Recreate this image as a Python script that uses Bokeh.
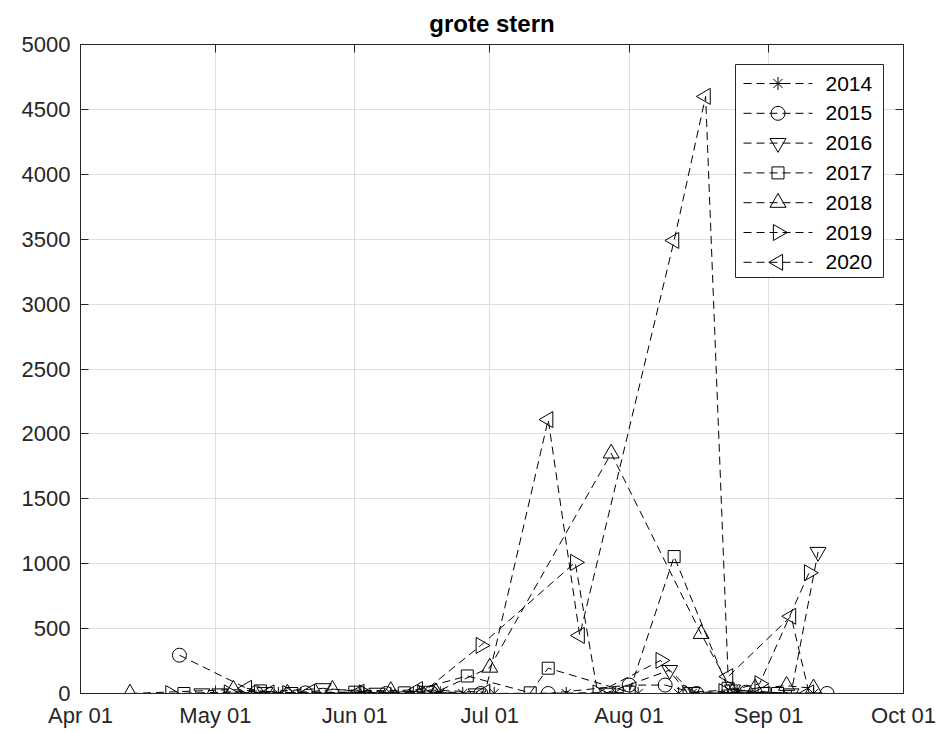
import math
import pandas as pd
from bokeh.plotting import figure
from bokeh.models import (FixedTicker, DatetimeTickFormatter, DatetimeAxis, LinearAxis,
                          Range1d, ColumnDataSource)
from bokeh.core.properties import value
from bokeh.embed import file_html
from bokeh.resources import INLINE

BASE_YEAR = 2000

# ---------------- data (month-day of each count, count) ----------------
dates_2014 = ["05-15", "05-20", "06-03", "06-09", "06-14", "06-20", "06-25", "07-02", "07-18",
              "07-29", "08-03", "08-12", "08-15", "08-25", "09-11"]
vals_2014 = [0, 0, 5, 0, 0, 5, 0, 0, 0, 5, 0, 0, 0, 10, 0]

dates_2015 = ["04-23", "05-10", "05-21", "06-08", "06-18", "06-29", "07-14", "08-01", "08-09",
              "08-16", "08-27", "09-14"]
vals_2015 = [295, 5, 5, 0, 5, 0, 0, 65, 65, 0, 10, 0]

dates_2016 = ["04-28", "05-02", "05-12", "05-25", "06-06", "06-17", "06-28", "07-27", "08-10",
              "08-15", "08-24", "09-06", "09-12"]
vals_2016 = [0, 0, 10, 40, 5, 20, 0, 5, 180, 10, 30, 0, 1090]

dates_2017 = ["04-24", "05-11", "05-18", "06-01", "06-12", "06-26", "07-10", "07-14", "08-01",
              "08-11", "08-23", "08-31", "09-03"]
vals_2017 = [0, 20, 0, 10, 5, 135, 5, 195, 10, 1055, 40, 0, 0]

dates_2018 = ["04-12", "05-05", "05-17", "05-27", "06-09", "06-19", "07-01", "07-28", "08-17",
              "08-24", "08-29", "09-05", "09-11"]
vals_2018 = [0, 30, 0, 30, 20, 10, 200, 1850, 460, 10, 40, 60, 40]

dates_2019 = ["04-21", "05-04", "05-17", "06-03", "06-16", "06-29", "07-20", "07-25", "08-08",
              "08-14", "08-22", "08-30", "09-10"]
vals_2019 = [0, 5, 0, 5, 5, 370, 1010, 5, 255, 5, 15, 75, 930]

dates_2020 = ["05-08", "05-13", "05-22", "06-02", "06-15", "06-30", "07-14", "07-21", "08-11",
              "08-18", "08-23", "09-06", "09-10"]
vals_2020 = [40, 5, 10, 10, 30, 10, 2110, 447, 3490, 4600, 130, 595, 5]

years = ["2014", "2015", "2016", "2017", "2018", "2019", "2020"]
x_tick_dates = ["04-01", "05-01", "06-01", "07-01", "08-01", "09-01", "10-01"]
y_ticks = [0, 500, 1000, 1500, 2000, 2500, 3000, 3500, 4000, 4500, 5000]
title_text = "grote stern"

series = {
    "2014": (dates_2014, vals_2014),
    "2015": (dates_2015, vals_2015),
    "2016": (dates_2016, vals_2016),
    "2017": (dates_2017, vals_2017),
    "2018": (dates_2018, vals_2018),
    "2019": (dates_2019, vals_2019),
    "2020": (dates_2020, vals_2020),
}

# marker style per year: (marker, angle, size)
styles = {
    "2014": ("asterisk", 0.0, 13),
    "2015": ("circle", 0.0, 14),
    "2016": ("inverted_triangle", 0.0, 16),
    "2017": ("square", 0.0, 12),
    "2018": ("triangle", 0.0, 16),
    "2019": ("triangle", -math.pi / 2, 16),
    "2020": ("triangle", math.pi / 2, 16),
}


def to_dt(md):
    return pd.to_datetime([f"{BASE_YEAR}-{d}" for d in md])


xt = to_dt(x_tick_dates)
tick_ms = [t.value / 1e6 for t in xt]

FONT = "Liberation Sans"
AX = "#262626"
W, H = 945, 733
BL, BR, BT, BB = 80, 42, 44, 40
FW, FH = W - BL - BR, H - BT - BB

p = figure(width=W, height=H, x_axis_type="datetime",
           x_range=Range1d(xt[0], xt[-1]), y_range=Range1d(0, 5000),
           output_backend="svg", toolbar_location=None,
           min_border_left=BL, min_border_right=BR, min_border_top=BT, min_border_bottom=BB,
           background_fill_color="white", border_fill_color="white")

p.title.text = title_text
p.title.align = "center"
p.title.text_font = FONT
p.title.text_font_size = "24px"
p.title.text_font_style = "bold"
p.title.text_color = "black"
p.title.standoff = 15

p.outline_line_color = AX
p.outline_line_width = 1

fmt = DatetimeTickFormatter(microseconds="%b %d", milliseconds="%b %d", seconds="%b %d",
                            minsec="%b %d", minutes="%b %d", hourmin="%b %d", hours="%b %d",
                            days="%b %d", months="%b %d", years="%b %d")

for ax in [p.xaxis[0], p.yaxis[0]]:
    ax.axis_line_color = AX
    ax.major_tick_line_color = AX
    ax.major_tick_in = 8
    ax.major_tick_out = 0
    ax.minor_tick_line_color = None
    ax.major_label_text_font = FONT
    ax.major_label_text_font_size = "22px"
    ax.major_label_text_color = AX

p.xaxis[0].major_label_standoff = 9
p.yaxis[0].major_label_standoff = 10
p.xaxis[0].ticker = FixedTicker(ticks=tick_ms)
p.xaxis[0].formatter = fmt
p.yaxis[0].ticker = FixedTicker(ticks=y_ticks)

# mirrored ticks on top and right (box on), labels not drawn
top_ax = DatetimeAxis(ticker=FixedTicker(ticks=tick_ms), formatter=fmt,
                      major_tick_in=8, major_tick_out=0, minor_tick_line_color=None,
                      major_label_text_font_size="1px", major_label_text_color=None,
                      axis_line_color=AX, major_tick_line_color=AX, major_label_standoff=0)
right_ax = LinearAxis(ticker=FixedTicker(ticks=y_ticks), major_tick_in=8, major_tick_out=0,
                      minor_tick_line_color=None, major_label_text_font_size="1px",
                      major_label_text_color=None,
                      axis_line_color=AX, major_tick_line_color=AX, major_label_standoff=0)
p.add_layout(top_ax, "above")
p.add_layout(right_ax, "right")

p.xgrid.ticker = FixedTicker(ticks=tick_ms)
p.ygrid.ticker = FixedTicker(ticks=y_ticks)
p.grid.grid_line_color = "#dedede"
p.grid.grid_line_width = 1

DASH = "8 5"
for yr in years:
    d, v = series[yr]
    src = ColumnDataSource(dict(x=to_dt(d), y=v))
    mk, ang, sz = styles[yr]
    p.line("x", "y", source=src, line_color="black", line_width=1, line_dash=DASH)
    p.scatter("x", "y", source=src, marker=mk, angle=ang, size=sz, fill_color=None,
              line_color="black", line_width=1)

# ---------------- legend (drawn in frame-pixel coordinates) ----------------
p.extra_x_ranges = {"lx": Range1d(0, FW)}
p.extra_y_ranges = {"ly": Range1d(0, FH)}

LEG_L, LEG_R, LEG_T, LEG_B = 655, 803, FH - 20, FH - 233
ROW0, ROW_STEP = FH - 39, 29.8
LINE_X0, LINE_X1, MARK_X, TEXT_X = 663, 732, 697.5, 745

p.quad(left=[LEG_L], right=[LEG_R], top=[LEG_T], bottom=[LEG_B],
       x_range_name="lx", y_range_name="ly",
       fill_color="white", line_color=AX, line_width=1)

row_y = [ROW0 - i * ROW_STEP for i in range(len(years))]
p.segment(x0=[LINE_X0] * len(years), x1=[LINE_X1] * len(years), y0=row_y, y1=row_y,
          x_range_name="lx", y_range_name="ly",
          line_color="black", line_width=1, line_dash=DASH)
for i, yr in enumerate(years):
    mk, ang, sz = styles[yr]
    p.scatter(x=[MARK_X], y=[row_y[i]], marker=mk, angle=ang, size=sz,
              x_range_name="lx", y_range_name="ly",
              fill_color=None, line_color="black", line_width=1)
p.text(x=[TEXT_X] * len(years), y=row_y, text=years,
       x_range_name="lx", y_range_name="ly",
       text_font=value(FONT), text_font_size="21px", text_color="black",
       text_baseline="middle", text_align="left")

open("out.html", "w").write(file_html(p, INLINE))
